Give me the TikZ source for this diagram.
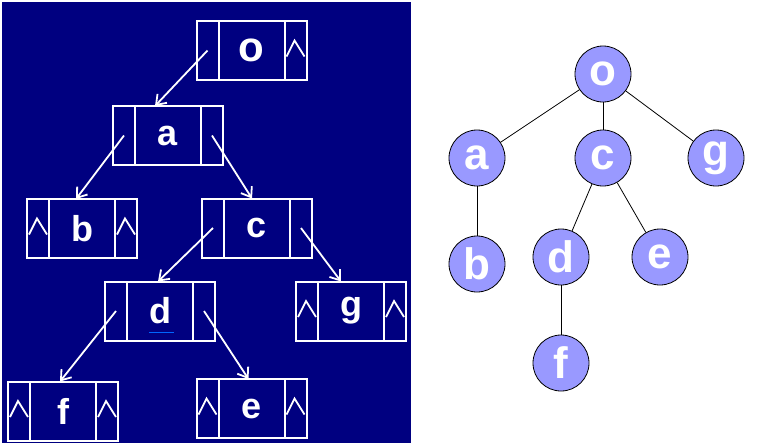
\documentclass[tikz,border=0pt]{standalone}
\usepackage{fontspec}
\setmainfont{Liberation Sans}
\usetikzlibrary{arrows.meta,positioning}
\definecolor{panelblue}{RGB}{0,0,128}
\definecolor{nodelilac}{RGB}{153,153,255}

\tikzset{
 cell/.style={draw=white, line width=2pt, minimum width=22pt, minimum height=59pt, inner sep=0pt, outer sep=0pt},
 key/.style={cell, minimum width=66pt, text=white, font=\bfseries\fontsize{36}{36}\selectfont},
 link/.style={draw=white, line width=1.8pt, -{Straight Barb[length=9pt,width=13pt]}},
 nil/.style={draw=white, line width=1.8pt},
 vert/.style={circle, draw=black, line width=0.8pt, fill=nodelilac, minimum size=56pt, inner sep=0pt, text=white, font=\bfseries\fontsize{44}{44}\selectfont},
 treeline/.style={draw=black, line width=0.8pt}
}

% null pointer mark inside a cell
\newcommand\nilmark[1]{\draw[nil] ([shift={(-9,6)}]#1.center) -- ([shift={(-1,-10)}]#1.center) -- ([shift={(9,6)}]#1.center);}

\begin{document}
\begin{tikzpicture}[x=1pt, y=-1pt]
 \useasboundingbox (0,0) rectangle (778,445);
 \fill[white] (0,0) rectangle (778,445);
 \fill[panelblue] (2,2) rectangle (411,443);

 % linked storage
 \node[key, font=\bfseries\fontsize{42}{42}\selectfont] (o) at (251.5,50.5) {o};
 \node[cell, left=0pt of o] (o-l) {};
 \node[cell, right=0pt of o] (o-r) {};
 \node[key] (a) at (168,135.5) {a};
 \node[cell, left=0pt of a] (a-l) {};
 \node[cell, right=0pt of a] (a-r) {};
 \node[key] (b) at (82,228.5) {b};
 \node[cell, left=0pt of b] (b-l) {};
 \node[cell, right=0pt of b] (b-r) {};
 \node[key] (c) at (257,228) {c};
 \node[cell, left=0pt of c] (c-l) {};
 \node[cell, right=0pt of c] (c-r) {};
 \node[key] (d) at (160,311) {d};
 \node[cell, left=0pt of d] (d-l) {};
 \node[cell, right=0pt of d] (d-r) {};
 \node[key] (g) at (351,311) {g};
 \node[cell, left=0pt of g] (g-l) {};
 \node[cell, right=0pt of g] (g-r) {};
 \node[key] (f) at (63,411) {f};
 \node[cell, left=0pt of f] (f-l) {};
 \node[cell, right=0pt of f] (f-r) {};
 \node[key] (e) at (251.5,408.5) {e};
 \node[cell, left=0pt of e] (e-l) {};
 \node[cell, right=0pt of e] (e-r) {};

 \draw[blue!60!cyan, line width=0.7pt] ([shift={(-11,-8)}]d.south) -- ([shift={(14,-8)}]d.south);

 \nilmark{o-r}
 \nilmark{b-l} \nilmark{b-r}
 \nilmark{g-l} \nilmark{g-r}
 \nilmark{f-l} \nilmark{f-r}
 \nilmark{e-l} \nilmark{e-r}

 \draw[link] (o-l.center) -- ([xshift=-13pt]a.north);
 \draw[link] (a-l.center) -- ([xshift=-6pt]b.north);
 \draw[link] (a-r.center) -- ([xshift=-5pt]c.north);
 \draw[link] (c-l.center) -- ([xshift=-2pt]d.north);
 \draw[link] (c-r.center) -- ([xshift=-10pt]g.north);
 \draw[link] (d-l.center) -- ([xshift=-3pt]f.north);
 \draw[link] (d-r.center) -- ([xshift=-3pt]e.north);

 % tree
 \node[vert] (t-o) at (603,74) {o};
 \node[vert] (t-a) at (477,158) {a};
 \node[vert] (t-c) at (603,158) {c};
 \node[vert] (t-g) at (716,158) {g};
 \node[vert] (t-b) at (477,264) {b};
 \node[vert] (t-d) at (561,257) {d};
 \node[vert] (t-e) at (660,257) {e};
 \node[vert] (t-f) at (561,363) {f};

 \draw[treeline] (t-o) -- (t-a);
 \draw[treeline] (t-o) -- (t-c);
 \draw[treeline] (t-o) -- (t-g);
 \draw[treeline] (t-a) -- (t-b);
 \draw[treeline] (t-c) -- (t-d);
 \draw[treeline] (t-c) -- (t-e);
 \draw[treeline] (t-d) -- (t-f);
\end{tikzpicture}
\end{document}
